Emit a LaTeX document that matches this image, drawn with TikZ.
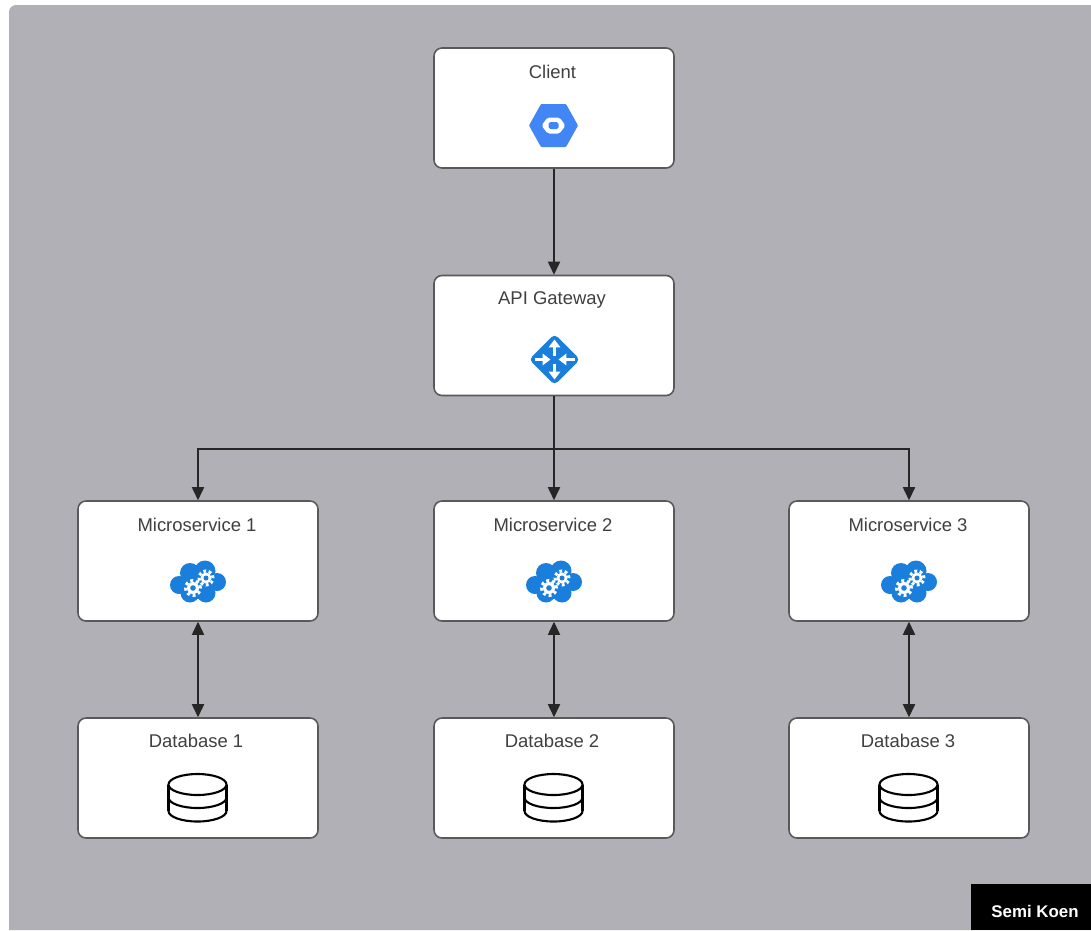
\documentclass[tikz,border=0pt]{standalone}
\usepackage{fontspec}
\setmainfont{Liberation Sans}
\usepackage{xcolor}
\usetikzlibrary{arrows.meta,positioning}
\definecolor{panelgray}{HTML}{B1B0B6}
\definecolor{hexblue}{HTML}{4285F4}
\definecolor{iconblue}{HTML}{1A7FDC}

\begin{document}
\begin{tikzpicture}[x=0.02cm,y=0.02cm,
  servicebox/.style={draw=black!65,line width=0.9pt,fill=white,rounded corners=4.5pt,minimum width=4.8cm,minimum height=2.4cm,inner sep=0pt},
  boxtitle/.style={text=black!75,font=\fontsize{10.5}{12}\selectfont,inner sep=0pt},
  link/.style={draw=black!85,line width=0.7pt,-{Triangle[length=7.5pt,width=7pt]}},
  twolink/.style={draw=black!85,line width=0.7pt,{Triangle[length=7.5pt,width=7pt]}-{Triangle[length=7.5pt,width=7pt]}},
  hexicon/.pic={
    \fill[hexblue,rounded corners=0.5pt](-24.5,0) -- (-12.5,21.5) -- (12.5,21.5) -- (24.5,0) -- (12.5,-21.5) -- (-12.5,-21.5) -- cycle;
    \fill[white,rounded corners=1pt](-12,0) -- (-6,8) -- (6,8) -- (12,0) -- (6,-8) -- (-6,-8) -- cycle;
    \fill[hexblue,rounded corners=1pt](-5,-3.5) rectangle (5,3.5);
  },
  gatewayicon/.pic={
    \fill[iconblue,rounded corners=2.5pt](-25.5,0) -- (0,25.5) -- (25.5,0) -- (0,-25.5) -- cycle;
    \draw[white,line width=1.7pt,-{Triangle[length=4.5pt,width=6.5pt]}](0,4) -- (0,20);
    \draw[white,line width=1.7pt,-{Triangle[length=4.5pt,width=6.5pt]}](0,-4) -- (0,-20);
    \draw[white,line width=1.7pt,-{Triangle[length=4.5pt,width=6.5pt]}](-20,0) -- (-4,0);
    \draw[white,line width=1.7pt,-{Triangle[length=4.5pt,width=6.5pt]}](20,0) -- (4,0);
  },
  cloudicon/.pic={
    \fill[iconblue](-19,-3) circle (9);
    \fill[iconblue](-8,9) circle (10);
    \fill[iconblue](7,11) circle (10.5);
    \fill[iconblue](19,0) circle (9);
    \fill[iconblue](8,-11) circle (9.5);
    \fill[iconblue](-8,-11) circle (9.5);
    \fill[iconblue](0,0) circle (17);
    \draw[white,line width=1.7pt,dash pattern=on 1.65pt off 1.65pt](-5,-6) circle (7.5);
    \fill[white](-5,-6) circle (6);
    \fill[iconblue](-5,-6) circle (2.8);
    \draw[white,line width=1.7pt,dash pattern=on 1.55pt off 1.55pt](8,4) circle (7);
    \fill[white](8,4) circle (5.5);
    \fill[iconblue](8,4) circle (2.5);
  },
  dbicon/.pic={
    \draw[black,line width=1.2pt](0,0) ellipse (29 and 10.5);
    \draw[black,line width=1.2pt](-29,0) -- (-29,-26.5);
    \draw[black,line width=1.2pt](29,0) -- (29,-26.5);
    \draw[black,line width=1.2pt](-29,-13) arc[start angle=180,end angle=360,x radius=29,y radius=10.5];
    \draw[black,line width=1.2pt](-29,-26.5) arc[start angle=180,end angle=360,x radius=29,y radius=10.5];
  }]
\useasboundingbox (0,0) rectangle (1091,-930);
\fill[panelgray](9,-930) [rounded corners=4pt] -- (9,-5) [sharp corners] -- (1091,-5) -- (1091,-930) -- cycle;

\node[servicebox] (client) at (554,-108) {};
\node[servicebox] (gateway) at (554,-335.5) {};
\node[servicebox] (service1) at (198,-561) {};
\node[servicebox] (service2) at (554,-561) {};
\node[servicebox] (service3) at (909,-561) {};
\node[servicebox] (db1) at (198,-778) {};
\node[servicebox] (db2) at (554,-778) {};
\node[servicebox] (db3) at (909,-778) {};

\node[boxtitle] (clienttitle) at (552.5,-72) {Client};
\node[boxtitle] (gatewaytitle) at (552,-299.5) {API Gateway};
\node[boxtitle] (service1title) at (197,-525) {Microservice 1};
\node[boxtitle] (service2title) at (553,-525) {Microservice 2};
\node[boxtitle] (service3title) at (908,-525) {Microservice 3};
\node[boxtitle] (db1title) at (196,-741) {Database 1};
\node[boxtitle] (db2title) at (552,-741) {Database 2};
\node[boxtitle] (db3title) at (908,-741) {Database 3};

\pic at (553.5,-125.5) {hexicon};
\pic at (554.5,-359.5) {gatewayicon};
\pic at (198,-582) {cloudicon};
\pic at (554,-582) {cloudicon};
\pic at (909,-582) {cloudicon};
\pic at (197.5,-784.5) {dbicon};
\pic at (553.5,-784.5) {dbicon};
\pic at (908.5,-784.5) {dbicon};

\coordinate (branch) at (554,-449);
\draw[link](client) -- (gateway);
\draw[link](gateway) -- (service2);
\draw[link](branch) -| (service1);
\draw[link](branch) -| (service3);
\draw[twolink](service1) -- (db1);
\draw[twolink](service2) -- (db2);
\draw[twolink](service3) -- (db3);

\fill[black](971,-884) rectangle (1091,-930);
\node[text=white,font=\fontsize{9.6}{12}\selectfont\bfseries,inner sep=0pt] (badge) at (1035,-911) {Semi Koen};
\end{tikzpicture}
\end{document}
